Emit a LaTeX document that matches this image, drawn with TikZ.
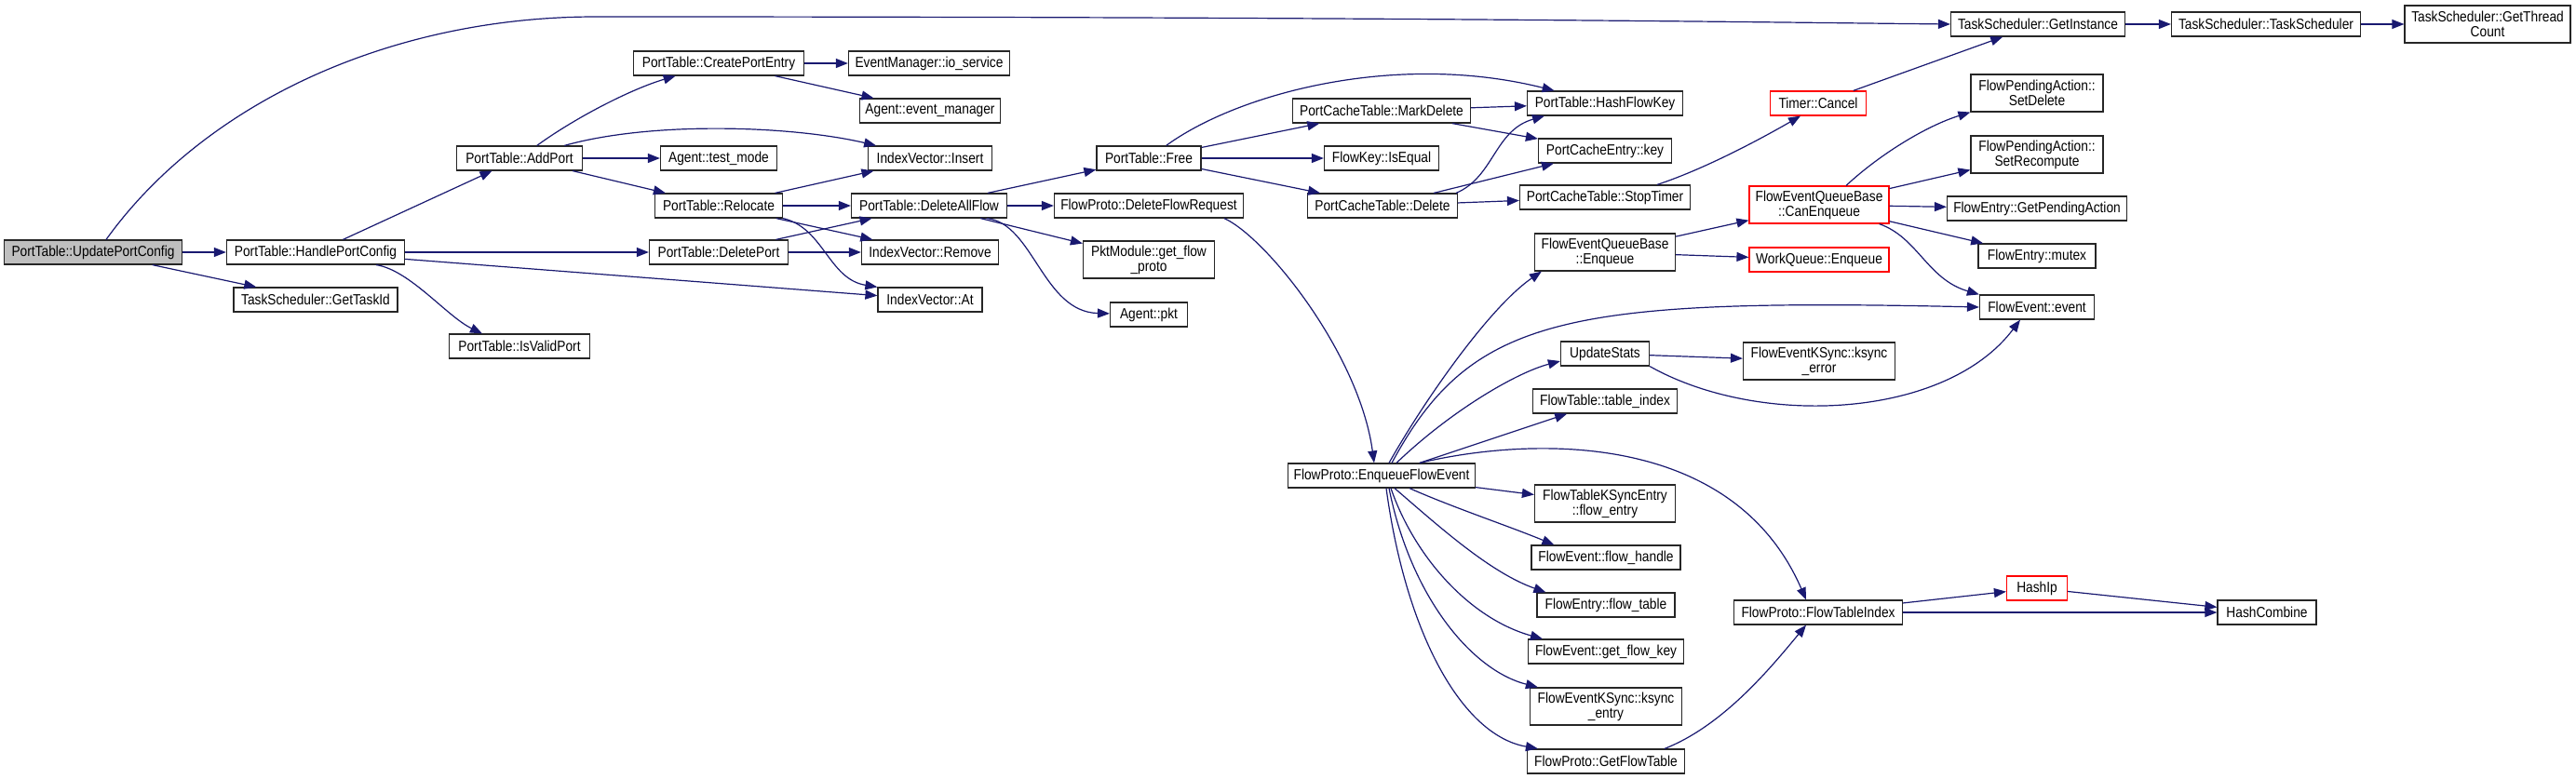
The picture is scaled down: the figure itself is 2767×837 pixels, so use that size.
\documentclass[tikz,border=0pt]{standalone}
\usepackage{fontspec}
\setmainfont{Liberation Sans}[FakeStretch=0.87]
\usetikzlibrary{arrows.meta}
\definecolor{edgeblue}{HTML}{191970}

\begin{document}
\begin{tikzpicture}[
        x=1pt, y=-1pt,
        every node/.style={draw=black!85, line width=1.2pt, inner sep=2pt, minimum height=26pt,
                font=\fontsize{15.8}{16}\selectfont, align=center},
        root/.style={fill=black!25},
        trunc/.style={draw=red},
        tall/.style={minimum height=40pt},
        call/.style={draw=edgeblue, line width=1.2pt, -{Triangle[length=13pt,width=10pt]}}
    ]
    \useasboundingbox (0,0) rectangle (2767,837);

    \node[root, minimum width=191pt] (upc) at (100,271) {PortTable::UpdatePortConfig};
    \node[minimum width=191pt] (hpc) at (339,271) {PortTable::HandlePortConfig};
    \node[minimum width=176pt] (gti) at (339,322) {TaskScheduler::GetTaskId};
    \node[minimum width=151pt] (ivp) at (558,372) {PortTable::IsValidPort};
    \node[minimum width=135pt] (ap) at (558,170) {PortTable::AddPort};

    \node[minimum width=183pt] (cpe) at (772,68) {PortTable::CreatePortEntry};
    \node[minimum width=125pt] (tm) at (772,170) {Agent::test\_mode};
    \node[minimum width=137pt] (rel) at (772,221) {PortTable::Relocate};
    \node[minimum width=149pt] (dp) at (772,271) {PortTable::DeletePort};

    \node[minimum width=173pt] (ios) at (998,68) {EventManager::io\_service};
    \node[minimum width=151pt] (evm) at (999,119) {Agent::event\_manager};
    \node[minimum width=133pt] (ins) at (999,170) {IndexVector::Insert};
    \node[minimum width=167pt] (daf) at (998,221) {PortTable::DeleteAllFlow};
    \node[minimum width=147pt] (rem) at (999,271) {IndexVector::Remove};
    \node[minimum width=112pt] (at) at (999,322) {IndexVector::At};

    \node[minimum width=112pt] (free) at (1234,170) {PortTable::Free};
    \node[minimum width=203pt] (dfr) at (1234,221) {FlowProto::DeleteFlowRequest};
    \node[tall, minimum width=141pt] (pkm) at (1234,279) {PktModule::get\_flow\\\_proto};
    \node[minimum width=83pt] (pkt) at (1234,338) {Agent::pkt};

    \node[minimum width=191pt] (md) at (1484,119) {PortCacheTable::MarkDelete};
    \node[minimum width=123pt] (ie) at (1484,170) {FlowKey::IsEqual};
    \node[minimum width=161pt] (pcd) at (1485,221) {PortCacheTable::Delete};
    \node[minimum width=201pt] (efe) at (1484,511) {FlowProto::EnqueueFlowEvent};

    \node[minimum width=167pt] (hfk) at (1724,111) {PortTable::HashFlowKey};
    \node[minimum width=143pt] (key) at (1724,162) {PortCacheEntry::key};
    \node[minimum width=183pt] (st) at (1724,212) {PortCacheTable::StopTimer};
    \node[tall, minimum width=151pt] (feqe) at (1724,271) {FlowEventQueueBase\\::Enqueue};
    \node[minimum width=95pt] (us) at (1724,380) {UpdateStats};
    \node[minimum width=155pt] (ti) at (1724,431) {FlowTable::table\_index};
    \node[tall, minimum width=151pt] (fke) at (1724,541) {FlowTableKSyncEntry\\::flow\_entry};
    \node[minimum width=160pt] (fh) at (1725,599) {FlowEvent::flow\_handle};
    \node[minimum width=148pt] (ft) at (1725,650) {FlowEntry::flow\_table};
    \node[minimum width=167pt] (gfk) at (1725,700) {FlowEvent::get\_flow\_key};
    \node[tall, minimum width=163pt] (kent) at (1725,759) {FlowEventKSync::ksync\\\_entry};
    \node[minimum width=169pt] (gft) at (1725,818) {FlowProto::GetFlowTable};

    \node[trunc, minimum width=103pt] (tc) at (1953,111) {Timer::Cancel};
    \node[trunc, tall, minimum width=150pt] (ce) at (1954,220) {FlowEventQueueBase\\::CanEnqueue};
    \node[trunc, minimum width=150pt] (wqe) at (1954,279) {WorkQueue::Enqueue};
    \node[tall, minimum width=163pt] (kse) at (1954,388) {FlowEventKSync::ksync\\\_error};
    \node[minimum width=181pt] (fti) at (1953,658) {FlowProto::FlowTableIndex};

    \node[minimum width=187pt] (gi) at (2189,26) {TaskScheduler::GetInstance};
    \node[tall, minimum width=142pt] (sd) at (2188,100) {FlowPendingAction::\\SetDelete};
    \node[tall, minimum width=142pt] (sr) at (2188,166) {FlowPendingAction::\\SetRecompute};
    \node[minimum width=193pt] (gpa) at (2188,224) {FlowEntry::GetPendingAction};
    \node[minimum width=126pt] (mtx) at (2188,275) {FlowEntry::mutex};
    \node[minimum width=123pt] (ev) at (2188,330) {FlowEvent::event};
    \node[trunc, minimum width=65pt] (hip) at (2188,632) {HashIp};

    \node[minimum width=203pt] (ts) at (2434,26) {TaskScheduler::TaskScheduler};
    \node[minimum width=106pt] (hc) at (2435,658) {HashCombine};
    \node[tall, minimum width=178pt] (gtc) at (2672,26) {TaskScheduler::GetThread\\Count};

    \draw[call] (upc) -- (hpc);
    \draw[call] (upc) -- (gti);
    \draw[call] ([xshift=14pt]upc.north) .. controls (220,110) and (420,18) .. (640,18)
        .. controls (1500,18) and (1900,24) .. (gi.west);
    \draw[call] (hpc) -- (ap);
    \draw[call] (hpc) -- (dp);
    \draw[call] (hpc) -- (at);
    \draw[call] ([xshift=65pt]hpc.south) .. controls (440,290) and (480,340) .. ([xshift=-40pt]ivp.north);
    \draw[call] (ap) .. controls (620,125) and (680,95) .. (cpe);
    \draw[call] (ap) -- (tm);
    \draw[call] (ap) .. controls (700,130) and (850,135) .. (ins);
    \draw[call] (ap) -- (rel);
    \draw[call] (cpe) -- (ios);
    \draw[call] (cpe) -- (evm);
    \draw[call] (rel) -- (ins);
    \draw[call] (rel) -- (daf);
    \draw[call] (rel) -- (rem);
    \draw[call] (rel.south east) .. controls (885,245) and (890,300) .. (at.north west);
    \draw[call] (dp) -- (daf);
    \draw[call] (dp) -- (rem);
    \draw[call] (daf) -- (free);
    \draw[call] (daf) -- (dfr);
    \draw[call] (daf) -- (pkm);
    \draw[call] ([xshift=62pt]daf.south) .. controls (1110,240) and (1120,335) .. (pkt);
    \draw[call] (free) .. controls (1330,100) and (1500,55) .. (hfk);
    \draw[call] (free) -- (md);
    \draw[call] (free) -- (ie);
    \draw[call] (free) -- (pcd);
    \draw[call] (md) -- (hfk);
    \draw[call] (md) -- (key);
    \draw[call] ([xshift=-2pt]pcd.north east) .. controls (1605,190) and (1605,140) .. ([xshift=-65pt]hfk.south);
    \draw[call] (pcd) -- (key);
    \draw[call] (pcd) -- (st);
    \draw[call] ([xshift=56pt]st.north) .. controls (1830,182) and (1890,150) .. ([xshift=-19pt]tc.south);
    \draw[call] (tc) -- (gi);
    \draw[call] ([xshift=81pt]dfr.south) .. controls (1360,255) and (1460,380) .. ([xshift=-8pt]efe.north);
    \draw[call] ([xshift=8pt]efe.north) .. controls (1530,430) and (1600,330) .. ([xshift=8pt]feqe.south west);
    \draw[call] ([xshift=16pt]efe.north) .. controls (1560,440) and (1630,400) .. ([yshift=-8pt]us.west);
    \draw[call] ([xshift=11pt]efe.north) .. controls (1580,340) and (1680,320) .. (ev.west);
    \draw[call] (efe) -- (ti);
    \draw[call] ([xshift=41pt]efe.north) .. controls (1640,470) and (1860,460) .. ([xshift=-13pt]fti.north);
    \draw[call] (efe) -- (fke);
    \draw[call] ([xshift=30pt]efe.south) .. controls (1560,545) and (1620,565) .. ([xshift=25pt]fh.north west);
    \draw[call] ([xshift=14pt]efe.south) .. controls (1545,565) and (1600,615) .. ([xshift=10pt]ft.north west);
    \draw[call] ([xshift=10pt]efe.south) .. controls (1520,600) and (1580,665) .. ([xshift=16pt]gfk.north west);
    \draw[call] ([xshift=8pt]efe.south) .. controls (1515,640) and (1580,720) .. ([xshift=9pt]kent.north west);
    \draw[call] ([xshift=5pt]efe.south) .. controls (1510,680) and (1570,790) .. ([xshift=12pt]gft.north west);
    \draw[call] ([xshift=63pt]gft.north) .. controls (1850,780) and (1900,720) .. ([xshift=-13pt]fti.south);
    \draw[call] (fti) -- (hip);
    \draw[call] (fti) -- (hc);
    \draw[call] (hip) -- (hc);
    \draw[call] (feqe) -- (ce);
    \draw[call] (feqe) -- (wqe);
    \draw[call] ([xshift=29pt]ce.north) .. controls (2020,165) and (2070,135) .. (sd.south west);
    \draw[call] (ce) -- (sr);
    \draw[call] (ce) -- (gpa);
    \draw[call] (ce) -- (mtx);
    \draw[call] ([xshift=-11pt]ce.south east) .. controls (2060,255) and (2070,300) .. (ev.north west);
    \draw[call] (us) -- (kse);
    \draw[call] (us.south east) .. controls (1890,460) and (2090,450) .. ([xshift=-18pt]ev.south);
    \draw[call] (gi) -- (ts);
    \draw[call] (ts) -- (gtc);

\end{tikzpicture}
\end{document}
